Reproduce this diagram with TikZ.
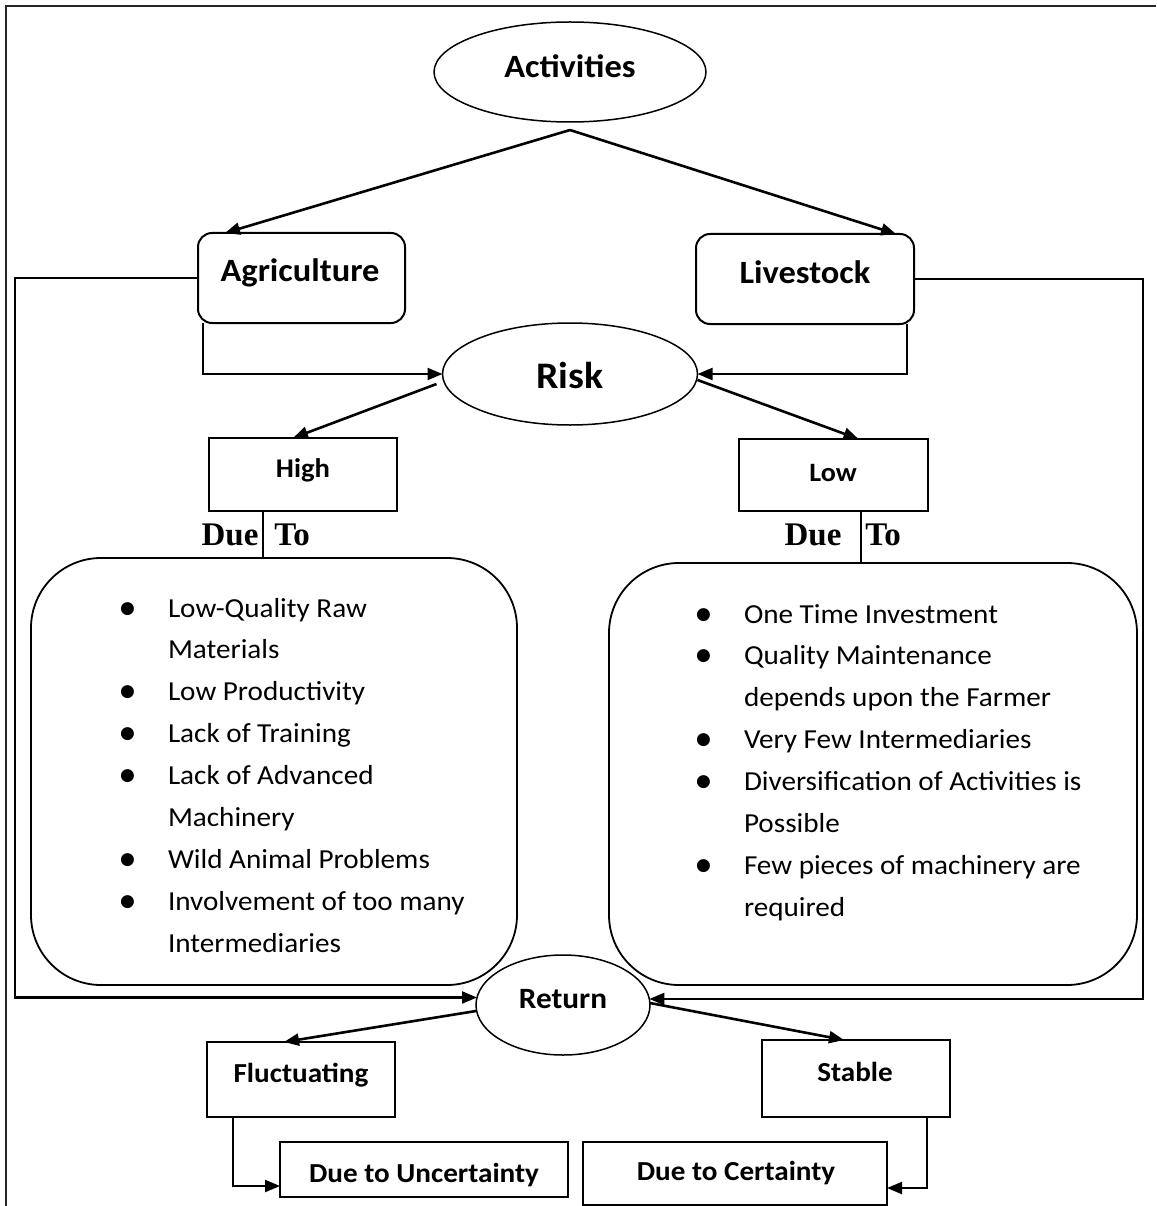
\documentclass[tikz,border=0pt]{standalone}
\usepackage{fontspec}
\setmainfont{Carlito}[FakeStretch=1.06]
\newfontfamily\timesfont{Liberation Serif}
\newfontfamily\bulfont{DejaVu Sans}
\usetikzlibrary{shapes.geometric,arrows.meta,calc}
\newcommand{\bul}{\llap{\raisebox{4pt}{\bulfont\fontsize{17}{17}\selectfont ●}\hspace{33pt}}}
\begin{document}
\begin{tikzpicture}[x=1pt,y=-1pt,
  every node/.style={inner sep=0pt, outer sep=0pt},
  oval/.style={draw, ellipse, line width=1.5pt},
  rbox/.style={draw, rectangle, rounded corners=14pt, line width=2pt},
  sbox/.style={draw, rectangle, line width=2pt},
  bigbox/.style={draw, rectangle, rounded corners=70pt, line width=1.8pt},
  tip/.style={-{Triangle[length=15pt,width=12pt]}},
  arr/.style={line width=2.6pt, tip},
  conn/.style={line width=2.2pt},
  thinl/.style={line width=1.2pt},
  lbl/.style={anchor=base, font=\bfseries\fontsize{27.5}{33}\selectfont},
  duelbl/.style={anchor=base, font=\timesfont\bfseries\fontsize{33}{40}\selectfont},
  listtxt/.style={anchor=base west, font=\fontsize{27.5}{41.9}\selectfont},
]
\useasboundingbox (0,0) rectangle (1156,1206);
\draw[line width=2pt, black!85] (6,1206) -- (6,6) -- (1156,6);

% nodes
\node[oval, minimum width=272pt, minimum height=100pt] (act) at (570,72) {};
\node[lbl, font=\bfseries\fontsize{32.5}{39}\selectfont] (acttxt) at (570,78) {Activities};

\node[rbox, minimum width=207pt, minimum height=90pt] (agri) at (301.5,278) {};
\node[lbl, font=\bfseries\fontsize{32.5}{39}\selectfont] (agritxt) at (300,281) {Agriculture};

\node[rbox, minimum width=218pt, minimum height=90pt] (live) at (805,279) {};
\node[lbl, font=\bfseries\fontsize{32.5}{39}\selectfont] (livetxt) at (805,283) {Livestock};

\node[oval, minimum width=255pt, minimum height=102pt] (risk) at (570,374) {};
\node[lbl, font=\bfseries\fontsize{37.5}{45}\selectfont] (risktxt) at (570,388) {Risk};

\node[sbox, minimum width=188pt, minimum height=73pt] (high) at (303,474.5) {};
\node[lbl, font=\bfseries\fontsize{27}{32}\selectfont] (hightxt) at (303,477) {High};

\node[sbox, minimum width=189pt, minimum height=72pt] (low) at (833.5,475) {};
\node[lbl, font=\bfseries\fontsize{26.5}{32}\selectfont] (lowtxt) at (833,481) {Low};

\node[duelbl] (due1) at (230,545) {Due};
\node[duelbl] (to1) at (292,545) {To};
\node[duelbl] (due2) at (813,545) {Due};
\node[duelbl] (to2) at (883,545) {To};

\node[bigbox, minimum width=486pt, minimum height=427pt] (leftbox) at (274,771.5) {};
\node[bigbox, minimum width=528pt, minimum height=422pt] (rightbox) at (873,774) {};

\node[listtxt] (list1) at (168,617) {\begin{tabular}[t]{@{}l@{}}
\bul Low-Quality Raw\\
Materials\\
\bul Low Productivity\\
\bul Lack of Training\\
\bul Lack of Advanced\\
Machinery\\
\bul Wild Animal Problems\\
\bul Involvement of too many\\
Intermediaries
\end{tabular}};

\node[listtxt] (list2) at (744,623) {\begin{tabular}[t]{@{}l@{}}
\bul One Time Investment\\
\bul Quality Maintenance\\
depends upon the Farmer\\
\bul Very Few Intermediaries\\
\bul Diversification of Activities is\\
Possible\\
\bul Few pieces of machinery are\\
required
\end{tabular}};

\node[oval, fill=white, minimum width=174pt, minimum height=100pt] (ret) at (563,1005) {};
\node[lbl, font=\bfseries\fontsize{29.5}{35}\selectfont] (rettxt) at (563,1008) {Return};

\node[sbox, minimum width=188pt, minimum height=75pt] (fluct) at (301,1079.5) {};
\node[lbl] (fluctxt) at (301,1082) {Fluctuating};

\node[sbox, minimum width=188pt, minimum height=77pt] (stable) at (856,1078.5) {};
\node[lbl] (stabtxt) at (855,1081) {Stable};

\node[sbox, minimum width=288pt, minimum height=55pt] (unc) at (424,1169.5) {};
\node[lbl] (unctxt) at (424,1182) {Due to Uncertainty};

\node[sbox, minimum width=304pt, minimum height=63pt] (cert) at (735,1173.5) {};
\node[lbl] (certtxt) at (736,1180) {Due to Certainty};

% connectors
\draw[arr] ([yshift=-8pt]act.south) -- ([xshift=-76.5pt]agri.north);
\draw[arr] ([yshift=-8pt]act.south) -- ([xshift=91pt]live.north);

\draw[conn, tip] (agri.west) -- (15,278) |- (ret.175);
\draw[conn, tip] (live.east) -- (1143,279) |- (ret.4);

\draw[conn, tip] ([xshift=-98.5pt]agri.south) |- (risk.west);
\draw[conn, tip] ([xshift=102pt]live.south) |- (risk.east);

\draw[arr] ([shift={(-6pt,-10pt)}]risk.west) -- ([xshift=-10pt]high.north);
\draw[arr] ([yshift=-6pt]risk.east) -- ([xshift=25pt]low.north);

\draw[thinl] ([xshift=-40pt]high.south) -- ([xshift=-40pt]high.south |- leftbox.north);
\draw[thinl] ([xshift=27.5pt]low.south) -- ([xshift=27.5pt]low.south |- rightbox.north);

\draw[arr] ([yshift=-6pt]ret.west) -- ([xshift=-17pt]fluct.north);
\draw[arr] ([yshift=2pt]ret.east) -- ([xshift=-12pt]stable.north);

\draw[conn, tip] ([xshift=-68pt]fluct.south) |- ([yshift=-16.5pt]unc.west);
\draw[conn, tip] ([xshift=71pt]stable.south) |- ([yshift=-14.5pt]cert.east);
\end{tikzpicture}
\end{document}
